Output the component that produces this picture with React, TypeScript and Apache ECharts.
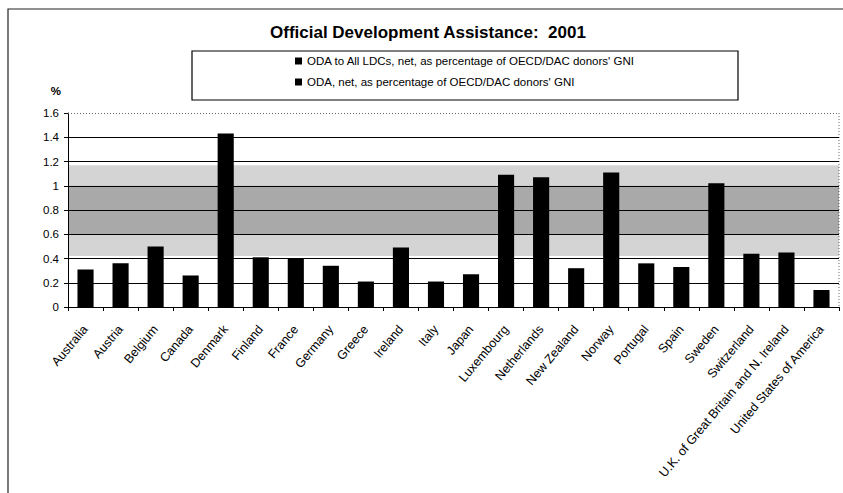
import React, { useEffect, useRef } from "react";
import * as echarts from "echarts";

const categories = [
  "Australia", "Austria", "Belgium", "Canada", "Denmark", "Finland", "France",
  "Germany", "Greece", "Ireland", "Italy", "Japan", "Luxembourg", "Netherlands",
  "New Zealand", "Norway", "Portugal", "Spain", "Sweden", "Switzerland",
  "U.K. of Great Britain and N. Ireland", "United States of America",
];

// ODA, net, as percentage of OECD/DAC donors' GNI
const odaNet = [
  0.31, 0.36, 0.5, 0.26, 1.43, 0.41, 0.4, 0.34, 0.21, 0.49, 0.21, 0.27,
  1.09, 1.07, 0.32, 1.11, 0.36, 0.33, 1.02, 0.44, 0.45, 0.14,
];

// ODA to All LDCs: no separate bars are visible in the picture
const odaLDC: (number | null)[] = [];

const gridTicks = [0.2, 0.4, 0.6, 0.8, 1.0, 1.2, 1.4];
const topTick = 1.6;

const seriesNames = [
  "ODA to All LDCs, net, as percentage of OECD/DAC donors' GNI",
  "ODA, net, as percentage of OECD/DAC donors' GNI",
];

const FONT = "'Liberation Sans', Arial, Helvetica, sans-serif";

export default function App() {
  const ref = useRef<HTMLDivElement>(null);
  useEffect(() => {
    if (!ref.current) return;
    const chart = echarts.init(ref.current, undefined, { renderer: "svg" });
    chart.setOption({
      animation: false,
      backgroundColor: "#ffffff",
      title: {
        text: "Official Development Assistance:  2001",
        left: 270,
        top: 24,
        padding: 0,
        textStyle: { fontFamily: FONT, fontSize: 17, fontWeight: "bold", color: "#000" },
      },
      legend: {
        orient: "vertical",
        left: 295,
        top: 55,
        padding: 0,
        itemWidth: 7,
        itemHeight: 7,
        itemGap: 9,
        icon: "rect",
        data: seriesNames,
        textStyle: { fontFamily: FONT, fontSize: 11.5, color: "#000" },
      },
      graphic: [
        {
          type: "rect",
          shape: { x: 8, y: 9, width: 900, height: 600 },
          style: { fill: "none", stroke: "#222", lineWidth: 1.2 },
          silent: true,
        },
        {
          type: "rect",
          shape: { x: 192, y: 51, width: 546, height: 49 },
          style: { fill: "none", stroke: "#000", lineWidth: 1.2 },
          silent: true,
          z: -1,
        },
        {
          type: "line",
          shape: { x1: 839, y1: 113, x2: 839, y2: 307 },
          style: { stroke: "#666", lineWidth: 1, lineDash: [1, 2] },
          silent: true,
        },
      ],
      grid: { left: 68, right: 4, top: 113, bottom: 186, containLabel: false },
      xAxis: {
        type: "category",
        data: categories,
        axisLine: { lineStyle: { color: "#000", width: 1 } },
        axisTick: { show: true, length: 4, lineStyle: { color: "#000" } },
        axisLabel: {
          interval: 0,
          rotate: 50,
          margin: 20,
          fontFamily: FONT,
          fontSize: 12.5,
          color: "#000",
        },
        splitLine: { show: false },
      },
      yAxis: {
        type: "value",
        min: 0,
        max: 1.6,
        interval: 0.2,
        name: "%",
        nameLocation: "end",
        nameGap: 16,
        nameTextStyle: {
          fontFamily: FONT,
          fontSize: 11.5,
          fontWeight: "bold",
          color: "#000",
          align: "right",
          padding: [0, 7, 0, 0],
        },
        axisLine: { show: true, lineStyle: { color: "#000", width: 1 } },
        axisTick: { show: true, length: 4, lineStyle: { color: "#000" } },
        axisLabel: { fontFamily: FONT, fontSize: 11.5, color: "#000", margin: 9 },
        splitLine: { show: false },
      },
      series: [
        {
          name: seriesNames[0],
          type: "bar",
          data: odaLDC,
          itemStyle: { color: "#000" },
          barWidth: "46%",
          barGap: "-100%",
        },
        {
          name: seriesNames[1],
          type: "bar",
          data: odaNet,
          itemStyle: { color: "#000" },
          barWidth: "46%",
          barGap: "-100%",
          markArea: {
            silent: true,
            label: { show: false },
            data: [
              [
                { yAxis: 0.42, itemStyle: { color: "rgba(0,0,0,0.17)" } },
                { yAxis: 1.17 },
              ],
              [
                { yAxis: 0.6, itemStyle: { color: "rgba(0,0,0,0.2)" } },
                { yAxis: 1.0 },
              ],
            ],
          },
          markLine: {
            silent: true,
            symbol: ["none", "none"],
            label: { show: false },
            lineStyle: { color: "#000", width: 1, type: "solid" },
            data: [
              ...gridTicks.map((v) => ({ yAxis: v })),
              {
                yAxis: topTick,
                lineStyle: { color: "#666", width: 1, type: [1, 2] },
              },
            ],
          },
        },
      ],
    });
    return () => chart.dispose();
  }, []);
  return (
    <div
      ref={ref}
      style={{ position: "fixed", left: 0, top: 0, width: 843, height: 493 }}
    />
  );
}
